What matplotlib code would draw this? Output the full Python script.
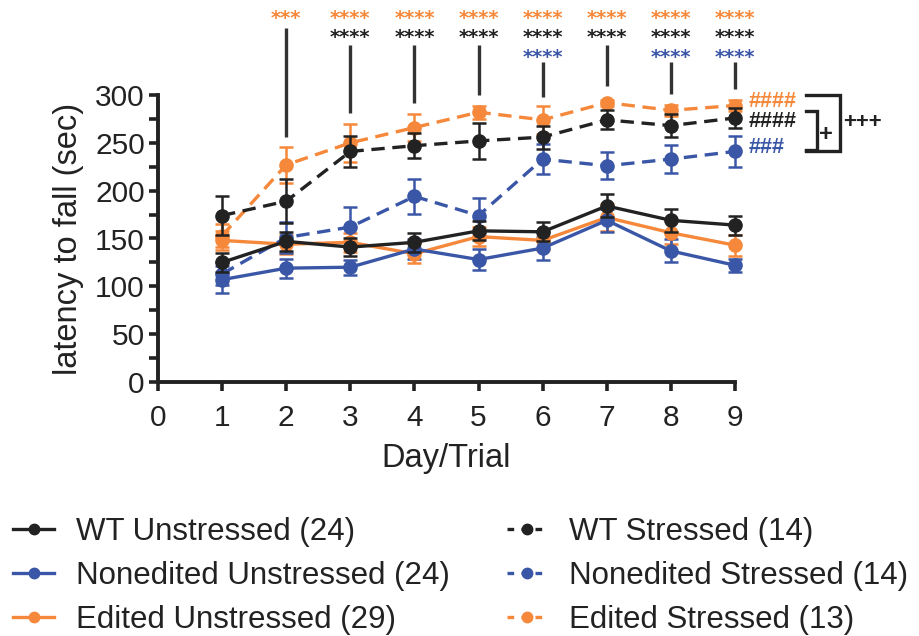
import matplotlib
matplotlib.use("Agg")
import matplotlib.pyplot as plt
from matplotlib.lines import Line2D
import numpy as np

plt.rcParams['font.family'] = ['Liberation Sans', 'DejaVu Sans']

days = [1, 2, 3, 4, 5, 6, 7, 8, 9]

wt_unstr = [125, 147, 141, 146, 158, 157, 184, 169, 164]
wt_unstr_err = [10, 10, 9, 10, 10, 10, 12, 12, 10]
ne_unstr = [107, 119, 120, 139, 128, 140, 169, 137, 122]
ne_unstr_err = [14, 10, 8, 10, 11, 12, 12, 12, 7]
ed_unstr = [148, 144, 146, 134, 152, 148, 172, 156, 143]
ed_unstr_err = [10, 10, 10, 10, 10, 10, 14, 12, 11]

wt_str = [174, 189, 241, 247, 252, 256, 274, 268, 276]
wt_str_err = [20, 23, 16, 13, 19, 12, 10, 12, 10]
ne_str = [113, 151, 162, 194, 174, 233, 226, 233, 241]
ne_str_err = [12, 16, 21, 18, 18, 16, 14, 15, 16]
ed_str = [153, 227, 250, 266, 282, 274, 292, 284, 289]
ed_str_err = [12, 19, 20, 14, 7, 15, 3, 6, 6]

labels = ["WT Unstressed (24)", "Nonedited Unstressed (24)", "Edited Unstressed (29)",
          "WT Stressed (14)", "Nonedited Stressed (14)", "Edited Stressed (13)"]

# significance annotations per day (orange, black, blue rows)
sig_orange = ["", "***", "****", "****", "****", "****", "****", "****", "****"]
sig_black = ["", "", "****", "****", "****", "****", "****", "****", "****"]
sig_blue = ["", "", "", "", "", "****", "", "****", "****"]
line_top = [None, 370, 352, 352, 352, 334.5, 352, 334.5, 334.5]
line_bottom = [None, 256, 281, 291.6, 300, 298, 309, 301, 306]

hash_labels = ["####", "####", "###"]

BLACK = "#222222"
BLUE = "#3a56a6"
ORANGE = "#f5883a"

fig = plt.figure(figsize=(9.19, 6.36), dpi=100)
ax = fig.add_axes([158/919, 1-382/636, (735-158)/919, (382-95)/636])

lw = 2.4
ms = 9.5
dash = (4, 2.3)

series = [
    (wt_unstr, wt_unstr_err, BLACK, '-'),
    (ne_unstr, ne_unstr_err, BLUE, '-'),
    (ed_unstr, ed_unstr_err, ORANGE, '-'),
    (wt_str, wt_str_err, BLACK, '--'),
    (ne_str, ne_str_err, BLUE, '--'),
    (ed_str, ed_str_err, ORANGE, '--'),
]
order = [2, 1, 0, 5, 4, 3]
handles = [None] * 6
for i in order:
    y, e, c, ls = series[i]
    cont = ax.errorbar(days, y, yerr=e, color=c, lw=lw, marker='o', ms=ms,
                       capsize=5, elinewidth=1.8, capthick=1.8, clip_on=False,
                       zorder=3 + (i in (0, 3)))
    line = cont[0]
    if ls == '--':
        line.set_dashes(dash)
    for art in cont[1]:
        art.set_clip_on(False)
    for art in cont[2]:
        art.set_clip_on(False)
    h = Line2D([], [], color=c, lw=lw, marker='o', ms=7.5)
    if ls == '--':
        h.set_dashes((2.0, 2.2))
    handles[i] = h

ax.set_xlim(0, 9)
ax.set_ylim(0, 300)
ax.set_xticks(range(0, 10))
ax.set_yticks(range(0, 301, 50))
ax.set_yticks(range(25, 300, 50), minor=True)
for s in ['top', 'right']:
    ax.spines[s].set_visible(False)
for s in ['left', 'bottom']:
    ax.spines[s].set_linewidth(2.8)
    ax.spines[s].set_color(BLACK)
ax.tick_params(axis='both', which='both', width=2.6, length=6.5, color=BLACK,
               labelsize=21.5, labelcolor=BLACK, pad=3)
ax.tick_params(axis='x', pad=9)
ax.set_xlabel("Day/Trial", fontsize=23.5, color=BLACK, labelpad=8)
ax.set_ylabel("latency to fall (sec)", fontsize=23.5, color=BLACK, labelpad=8)

# significance lines and stars
star_font = dict(fontsize=14, ha='center', va='center', clip_on=False,
                 family='DejaVu Sans', fontweight='bold')
for d, t, b, so, sb, sbl in zip(days, line_top, line_bottom, sig_orange, sig_black, sig_blue):
    if t is not None:
        ax.plot([d, d], [b, t], color="#333333", lw=2.4, clip_on=False, solid_capstyle='butt')
    if so:
        ax.text(d, 380, so, color=ORANGE, **star_font)
    if sb:
        ax.text(d, 359.6, sb, color=BLACK, **star_font)
    if sbl:
        ax.text(d, 339.3, sbl, color=BLUE, **star_font)

# hashes at right
for txt, yv, c in zip(hash_labels, [293, 272, 244.6], [ORANGE, BLACK, BLUE]):
    ax.text(9.22, yv, txt, color=c, fontsize=15.5, fontweight='bold', ha='left',
            va='center', clip_on=False)

# brackets
ax.plot([10.11, 10.64, 10.64, 10.11], [300, 300, 241.5, 241.5], color=BLACK, lw=2.4,
        clip_on=False, solid_joinstyle='miter')
ax.plot([10.11, 10.28, 10.28, 10.11], [283.6, 283.6, 242.5, 242.5], color=BLACK, lw=2.4,
        clip_on=False, solid_joinstyle='miter')
ax.text(10.42, 259, "+", color=BLACK, fontsize=17, fontweight='bold', ha='center',
        va='center', clip_on=False)
ax.text(10.69, 271, "+++", color=BLACK, fontsize=16, fontweight='bold', ha='left',
        va='center', clip_on=False)

leg = fig.legend(handles, labels, loc='upper left', bbox_to_anchor=(-0.006, 0.217),
                 ncol=2, frameon=False, fontsize=22.5, handlelength=1.3,
                 handletextpad=0.7, columnspacing=1.83, labelspacing=0.45,
                 borderaxespad=0.2)
for t in leg.get_texts():
    t.set_color(BLACK)

fig.savefig("out.png", dpi=100)
